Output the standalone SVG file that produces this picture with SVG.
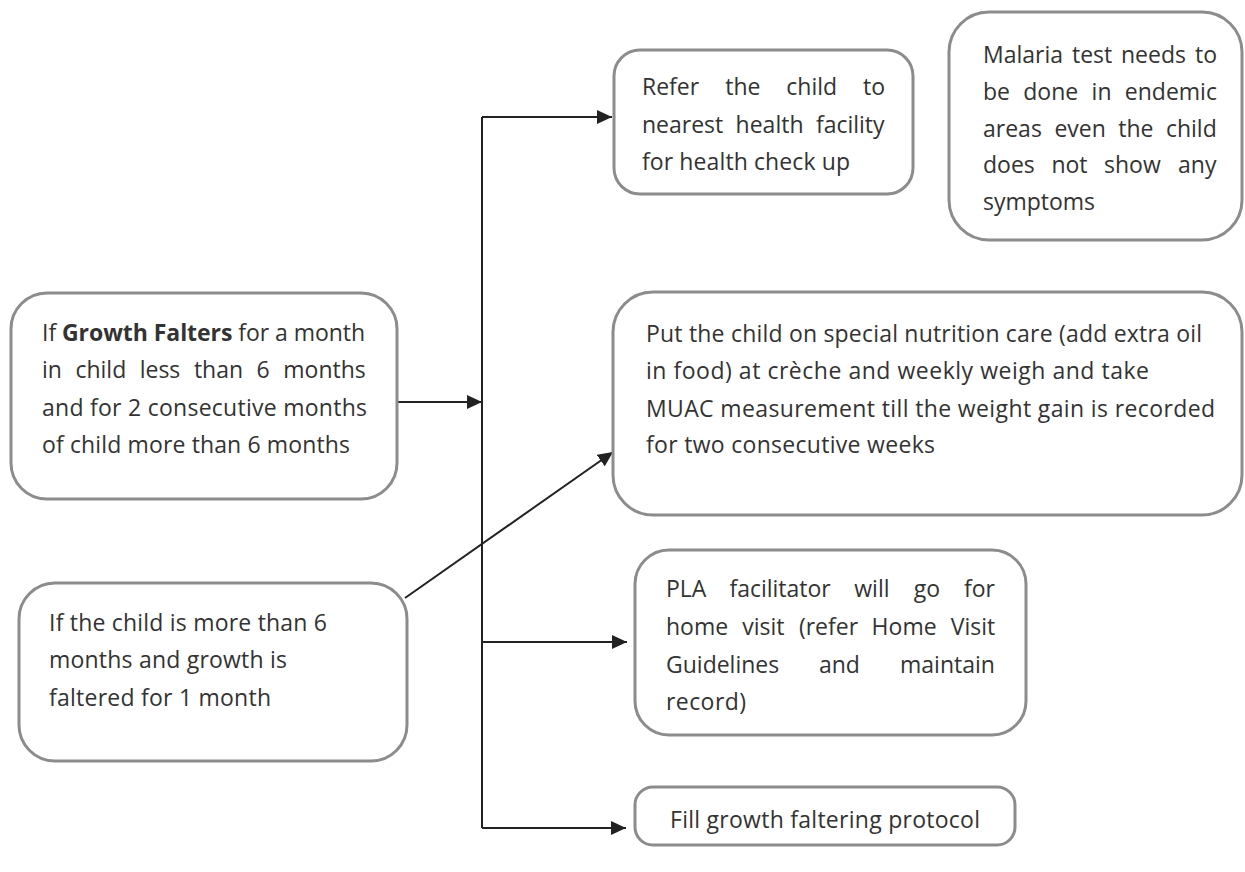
<svg xmlns="http://www.w3.org/2000/svg" width="1245" height="872" viewBox="0 0 1245 872">
<style>
.box{fill:#fff;stroke:#8c8c8c;stroke-width:3}
.t{font-family:"Open Sans","Liberation Sans",sans-serif;font-size:23px;fill:#333}
.b{font-weight:bold}
.c{fill:none;stroke:#222;stroke-width:2}
</style>
<defs>
<marker id="ah" markerUnits="userSpaceOnUse" markerWidth="16" markerHeight="14" refX="15" refY="7" orient="auto">
<path d="M0,0 L15,7 L0,14 Z" fill="#222"/>
</marker>
</defs>
<rect width="1245" height="872" fill="#fff"/>
<g id="connectors">
<path class="c" d="M482,117 L482,828"/>
<path class="c" d="M482,117 L612,117" marker-end="url(#ah)"/>
<path class="c" d="M397,402 L482,402" marker-end="url(#ah)"/>
<path class="c" d="M405,598 L613,452" marker-end="url(#ah)"/>
<path class="c" d="M482,642 L627,642" marker-end="url(#ah)"/>
<path class="c" d="M482,828 L626,828" marker-end="url(#ah)"/>
</g>
<g id="node-growth-falters">
<rect class="box" x="11" y="293" width="386" height="206" rx="36"/>
<text class="t" x="42" y="341" textLength="323" lengthAdjust="spacing">If <tspan class="b">Growth Falters</tspan> for a month</text>
<text class="t" y="378"><tspan x="42">in</tspan><tspan x="75.4">child</tspan><tspan x="139.7">less</tspan><tspan x="193.9">than</tspan><tspan x="256.6">6</tspan><tspan x="283.3">months</tspan></text>
<text class="t" x="42" y="416" textLength="325" lengthAdjust="spacing">and for 2 consecutive months</text>
<text class="t" x="42" y="453" textLength="308" lengthAdjust="spacing">of child more than 6 months</text>
</g>
<g id="node-refer">
<rect class="box" x="614" y="50" width="299" height="144" rx="26"/>
<text class="t" y="95"><tspan x="642">Refer</tspan><tspan x="725.3">the</tspan><tspan x="786.3">child</tspan><tspan x="863">to</tspan></text>
<text class="t" y="133"><tspan x="642">nearest</tspan><tspan x="735.6">health</tspan><tspan x="815.9">facility</tspan></text>
<text class="t" x="642" y="170" textLength="208" lengthAdjust="spacing">for health check up</text>
</g>
<g id="node-malaria">
<rect class="box" x="949" y="12" width="293" height="228" rx="40"/>
<text class="t" y="63"><tspan x="983">Malaria</tspan><tspan x="1072">test</tspan><tspan x="1121">needs</tspan><tspan x="1195">to</tspan></text>
<text class="t" y="100"><tspan x="983">be</tspan><tspan x="1023.3">done</tspan><tspan x="1091.6">in</tspan><tspan x="1124.8">endemic</tspan></text>
<text class="t" y="137"><tspan x="983">areas</tspan><tspan x="1054.4">even</tspan><tspan x="1118.3">the</tspan><tspan x="1165.9">child</tspan></text>
<text class="t" y="173"><tspan x="983">does</tspan><tspan x="1051.4">not</tspan><tspan x="1104">show</tspan><tspan x="1178">any</tspan></text>
<text class="t" x="983" y="210" textLength="112" lengthAdjust="spacing">symptoms</text>
</g>
<g id="node-nutrition">
<rect class="box" x="613" y="292" width="629" height="223" rx="40"/>
<text class="t" x="646" y="342" textLength="556" lengthAdjust="spacing">Put the child on special nutrition care (add extra oil</text>
<text class="t" x="646" y="379" textLength="503" lengthAdjust="spacing">in food) at crèche and weekly  weigh  and take</text>
<text class="t" x="646" y="417" textLength="569" lengthAdjust="spacing">MUAC measurement  till the weight gain is recorded</text>
<text class="t" x="646" y="453" textLength="289" lengthAdjust="spacing">for two consecutive weeks</text>
</g>
<g id="node-child-more-6">
<rect class="box" x="19" y="583" width="388" height="178" rx="36"/>
<text class="t" x="49" y="631" textLength="278" lengthAdjust="spacing">If the child is more than 6</text>
<text class="t" x="49" y="668" textLength="238" lengthAdjust="spacing">months and growth is</text>
<text class="t" x="49" y="706" textLength="222" lengthAdjust="spacing">faltered for 1 month</text>
</g>
<g id="node-pla">
<rect class="box" x="635" y="550" width="391" height="185" rx="34"/>
<text class="t" y="597"><tspan x="666">PLA</tspan><tspan x="729.4">facilitator</tspan><tspan x="854.3">will</tspan><tspan x="913.8">go</tspan><tspan x="963.9">for</tspan></text>
<text class="t" y="635"><tspan x="666">home</tspan><tspan x="742.2">visit</tspan><tspan x="798.9">(refer</tspan><tspan x="871.6">Home</tspan><tspan x="950.7">Visit</tspan></text>
<text class="t" y="673"><tspan x="666">Guidelines</tspan><tspan x="818.9">and</tspan><tspan x="900">maintain</tspan></text>
<text class="t" x="666" y="710" textLength="80" lengthAdjust="spacing">record)</text>
</g>
<g id="node-fill-protocol">
<rect class="box" x="635" y="787" width="380" height="58" rx="18"/>
<text class="t" x="670" y="828" textLength="310" lengthAdjust="spacing">Fill growth faltering protocol</text>
</g>
</svg>
